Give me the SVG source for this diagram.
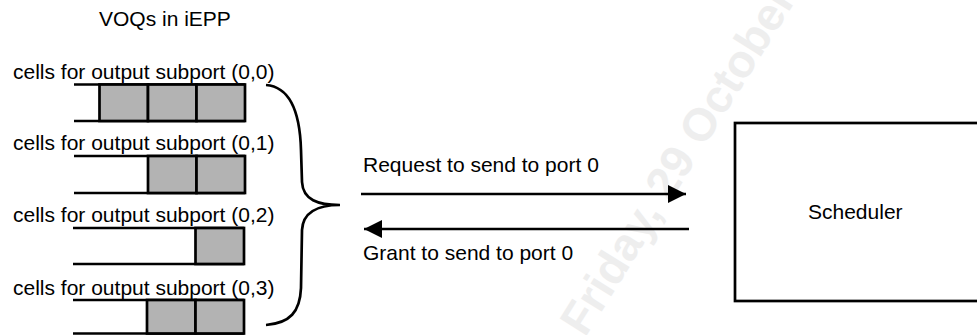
<svg xmlns="http://www.w3.org/2000/svg" width="977" height="335" viewBox="0 0 977 335">
<style>
text{font-family:"Liberation Sans",Arial,sans-serif;font-size:21px;fill:#000}
.wm{font-family:"Liberation Sans",Arial,sans-serif;font-size:46px;font-weight:bold;fill:#eeeeee}
.ln{stroke:#000;stroke-width:2.7;fill:none}
.cell{fill:#b3b3b3;stroke:#000;stroke-width:2.7}
</style>
<defs>
<marker id="ah" viewBox="0 0 18 18" refX="18" refY="9" markerWidth="18" markerHeight="18" markerUnits="userSpaceOnUse" orient="auto">
<path d="M0,0 L18,9 L0,18 z" fill="#000"/>
</marker>
</defs>
<rect width="977" height="335" fill="#fff"/>
<text class="wm" x="585" y="338" transform="rotate(-58 585 338)">Friday, 29 October</text>
<text x="99" y="26">VOQs in iEPP</text>
<g id="voq00">
<text x="13" y="79">cells for output subport (0,0)</text>
<line class="ln" x1="74" y1="84.5" x2="245" y2="84.5"/>
<line class="ln" x1="74" y1="121" x2="245" y2="121"/>
<rect class="cell" x="99.5" y="84.5" width="48.5" height="36.5"/>
<rect class="cell" x="148" y="84.5" width="48.5" height="36.5"/>
<rect class="cell" x="196.5" y="84.5" width="48.5" height="36.5"/>
</g>
<g id="voq01">
<text x="13" y="150">cells for output subport (0,1)</text>
<line class="ln" x1="74" y1="156" x2="245" y2="156"/>
<line class="ln" x1="74" y1="193" x2="245" y2="193"/>
<rect class="cell" x="148" y="156" width="48.5" height="37"/>
<rect class="cell" x="196.5" y="156" width="48.5" height="37"/>
</g>
<g id="voq02">
<text x="13" y="222">cells for output subport (0,2)</text>
<line class="ln" x1="73" y1="228" x2="244" y2="228"/>
<line class="ln" x1="73" y1="264" x2="244" y2="264"/>
<rect class="cell" x="195.5" y="228" width="48.5" height="36"/>
</g>
<g id="voq03">
<text x="13" y="295">cells for output subport (0,3)</text>
<line class="ln" x1="73" y1="300" x2="244" y2="300"/>
<line class="ln" x1="73" y1="333.5" x2="244" y2="333.5"/>
<rect class="cell" x="147" y="300" width="48.5" height="33.5"/>
<rect class="cell" x="195.5" y="300" width="48.5" height="33.5"/>
</g>
<g id="brace">
<path class="ln" stroke-width="2.2" d="M266,85 C292,87 300,115 301,150 L302,182 C303,200 318,205 340,205 C318,205 303,212 302,230 L301,288 C300,312 290,323 266,325"/>
</g>
<g id="scheduler">
<rect class="ln" x="735" y="123" width="260" height="178"/>
<text x="808" y="219">Scheduler</text>
</g>
<g id="connectors">
<line class="ln" x1="361" y1="194" x2="686" y2="194" marker-end="url(#ah)"/>
<line class="ln" x1="689" y1="229" x2="364" y2="229" marker-end="url(#ah)"/>
<text x="363" y="172">Request to send to port 0</text>
<text x="363" y="260">Grant to send to port 0</text>
</g>
</svg>
